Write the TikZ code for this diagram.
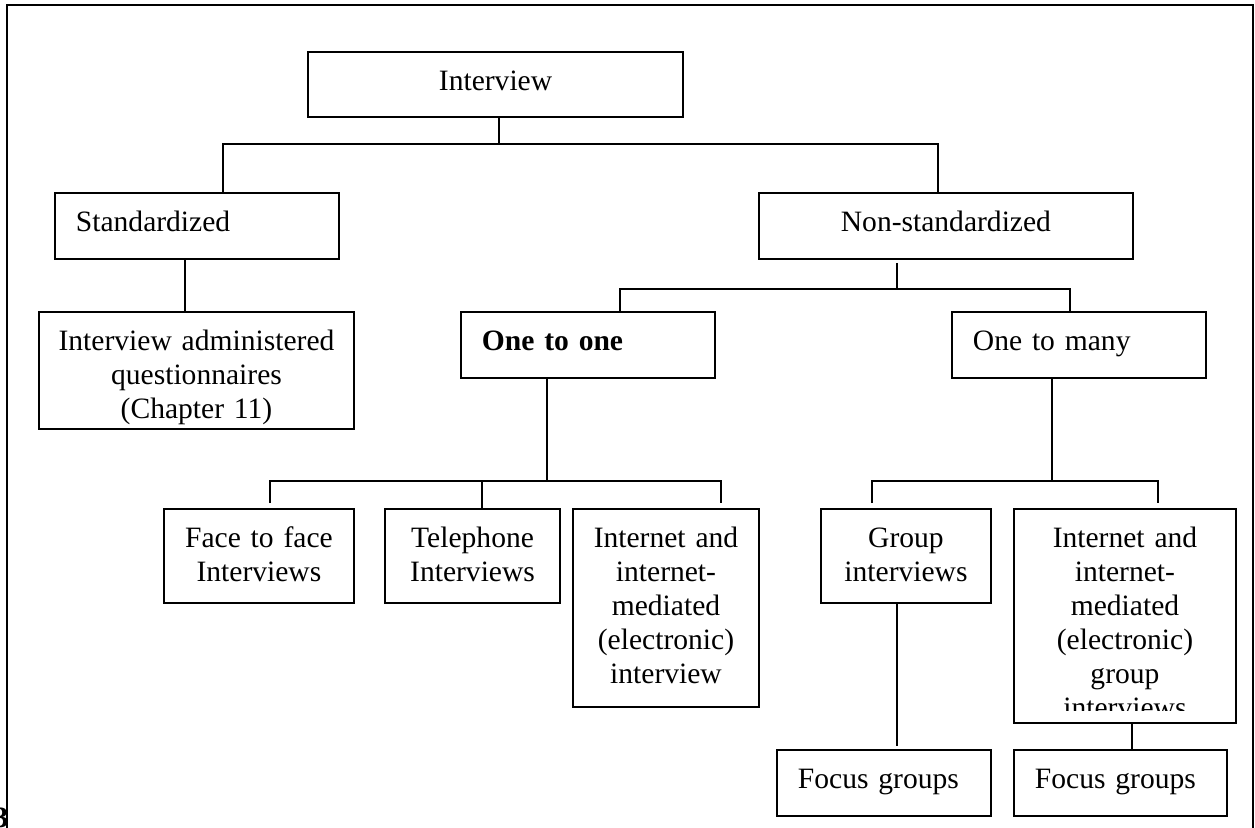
\documentclass[tikz,border=0pt]{standalone}
\usepackage{fontspec}
\setmainfont{Liberation Serif}
\tikzset{
    box/.style={draw, line width=0.8pt, anchor=north west, inner sep=0pt,
        text height=15.8pt, align=center, font=\fontsize{12}{13.8}\selectfont},
    lbox/.style={box, align=left, inner xsep=8.5pt},
    link/.style={line width=0.6pt},
    frame/.style={line width=0.6pt}
}

\begin{document}
\begin{tikzpicture}[x=0.406pt, y=-0.406pt]
    \useasboundingbox (0,0) rectangle (1255,827);
    \draw[frame] (7,840) -- (7,5) -- (1253,5) -- (1253,840);
    \node[font=\bfseries\fontsize{12}{13.8}\selectfont, anchor=base east, inner sep=0pt] (pagenum) at (9,827) {3};

    % boxes
    \node[box, text width=152.3pt, text depth=10.6pt] (interview) at (307,51) {Interview};
    \node[lbox, text width=98.3pt, text depth=11pt] (std) at (54,192) {Standardized};
    \node[box, text width=151.8pt, text depth=11pt] (nonstd) at (758,192) {Non-standardized};
    \node[box, text width=127.9pt, text depth=31.7pt] (admin) at (38,311)
        {Interview administered\\questionnaires\\(Chapter 11)};
    \node[lbox, text width=86.1pt, text depth=11pt] (one2one) at (460,311) {\textbf{One to one}};
    \node[lbox, text width=86.1pt, text depth=11pt] (one2many) at (951,311) {One to many};
    \node[box, text width=77.1pt, text depth=22.4pt] (face) at (163,508) {Face to face\\Interviews};
    \node[box, text width=71.1pt, text depth=22.4pt] (tel) at (384,508) {Telephone\\Interviews};
    \node[box, text width=75.5pt, text depth=64.6pt] (inet) at (572,508)
        {Internet and\\internet-\\mediated\\(electronic)\\interview};
    \node[box, text width=69pt, text depth=22.4pt] (group) at (820,508) {Group\\interviews};
    \node[box, text width=90.1pt, text depth=71.1pt] (inetgrp) at (1013,508)
        {Internet and\\internet-\\mediated\\(electronic)\\group\\interviews};
    \fill[white] (1014.5,711) rectangle (1233.5,720.5);
    \node[lbox, text width=69.9pt, text depth=11pt] (focus1) at (776,749) {Focus groups};
    \node[lbox, text width=69.5pt, text depth=11pt] (focus2) at (1013,749) {Focus groups};

    % interview split
    \coordinate (s1) at (499,144);
    \coordinate (s1l) at (223,144);
    \coordinate (s1r) at (938,144);
    \draw[link] (s1 |- interview.south) -- (s1);
    \draw[link] (s1l |- std.north) -- (s1l) -- (s1r) -- (s1r |- nonstd.north);

    \coordinate (s2) at (185,0);
    \draw[link] (s2 |- std.south) -- (s2 |- admin.north);

    % non-standardized split
    \coordinate (s3) at (897,289);
    \coordinate (s3l) at (620,289);
    \coordinate (s3r) at (1070,289);
    \draw[link, shorten <=1.2pt] (s3 |- nonstd.south) -- (s3);
    \draw[link] (s3l |- one2one.north) -- (s3l) -- (s3r) -- (s3r |- one2many.north);

    % one to one split
    \coordinate (s4) at (547,481);
    \coordinate (s4l) at (270,481);
    \coordinate (s4m) at (482,481);
    \coordinate (s4r) at (721,481);
    \draw[link] (s4 |- one2one.south) -- (s4);
    \draw[link, shorten <=2pt, shorten >=2pt] (s4l |- face.north) -- (s4l) -- (s4r) -- (s4r |- inet.north);
    \draw[link] (s4m) -- (s4m |- tel.north);

    % one to many split
    \coordinate (s5) at (1052,481);
    \coordinate (s5l) at (872,481);
    \coordinate (s5r) at (1158,481);
    \draw[link] (s5 |- one2many.south) -- (s5);
    \draw[link, shorten <=2pt, shorten >=2pt] (s5l |- group.north) -- (s5l) -- (s5r) -- (s5r |- inetgrp.north);

    % focus groups
    \coordinate (s6) at (897,0);
    \coordinate (s7) at (1132,0);
    \draw[link, shorten >=1.2pt] (s6 |- group.south) -- (s6 |- focus1.north);
    \draw[link] (s7 |- inetgrp.south) -- (s7 |- focus2.north);
\end{tikzpicture}
\end{document}
